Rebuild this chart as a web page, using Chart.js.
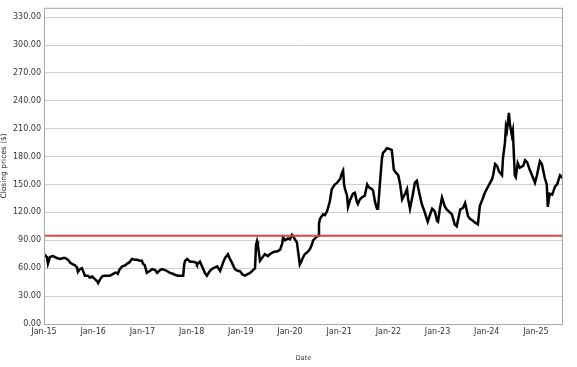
<!DOCTYPE html>
<html>
<head>
<meta charset="utf-8">
<script src="https://cdn.jsdelivr.net/npm/chart.js@4/dist/chart.umd.min.js"></script>
<style>
  body { margin: 0; background: #fff; }
</style>
</head>
<body>
<canvas id="myChart" width="577" height="367"></canvas>
<script>
// closing prices (date as decimal year)
var years = [
  2015.00, 2015.02, 2015.06, 2015.08, 2015.12, 2015.18, 2015.26, 2015.33, 2015.39, 2015.43,
  2015.49, 2015.53, 2015.59, 2015.63, 2015.67, 2015.69, 2015.73, 2015.77, 2015.81, 2015.83,
  2015.89, 2015.93, 2015.98, 2016.04, 2016.08, 2016.10, 2016.14, 2016.18, 2016.22, 2016.28,
  2016.34, 2016.38, 2016.44, 2016.48, 2016.50, 2016.54, 2016.59, 2016.65, 2016.69, 2016.73,
  2016.79, 2016.85, 2016.89, 2016.95, 2016.99, 2017.01, 2017.05, 2017.09, 2017.15, 2017.20,
  2017.26, 2017.30, 2017.36, 2017.40, 2017.46, 2017.50, 2017.56, 2017.62, 2017.66, 2017.72,
  2017.76, 2017.83, 2017.85, 2017.87, 2017.91, 2017.97, 2018.03, 2018.09, 2018.11, 2018.17,
  2018.23, 2018.27, 2018.31, 2018.37, 2018.41, 2018.48, 2018.52, 2018.58, 2018.64, 2018.68,
  2018.74, 2018.78, 2018.82, 2018.88, 2018.94, 2018.98, 2019.04, 2019.09, 2019.15, 2019.19,
  2019.25, 2019.29, 2019.31, 2019.33, 2019.35, 2019.39, 2019.43, 2019.49, 2019.55, 2019.59,
  2019.65, 2019.70, 2019.74, 2019.80, 2019.84, 2019.86, 2019.90, 2019.96, 2020.00, 2020.04,
  2020.06, 2020.10, 2020.14, 2020.16, 2020.20, 2020.22, 2020.26, 2020.30, 2020.37, 2020.41,
  2020.45, 2020.47, 2020.51, 2020.57, 2020.59, 2020.61, 2020.67, 2020.71, 2020.75, 2020.77,
  2020.81, 2020.85, 2020.91, 2020.96, 2021.02, 2021.06, 2021.08, 2021.10, 2021.12, 2021.16,
  2021.18, 2021.22, 2021.28, 2021.32, 2021.36, 2021.38, 2021.42, 2021.46, 2021.52, 2021.57,
  2021.59, 2021.63, 2021.67, 2021.69, 2021.73, 2021.77, 2021.79, 2021.83, 2021.87, 2021.89,
  2021.93, 2021.97, 2022.03, 2022.07, 2022.09, 2022.11, 2022.15, 2022.20, 2022.24, 2022.28,
  2022.30, 2022.34, 2022.38, 2022.40, 2022.44, 2022.50, 2022.54, 2022.58, 2022.60, 2022.64,
  2022.68, 2022.70, 2022.74, 2022.80, 2022.85, 2022.89, 2022.93, 2022.95, 2022.99, 2023.01,
  2023.05, 2023.09, 2023.15, 2023.19, 2023.25, 2023.29, 2023.35, 2023.39, 2023.46, 2023.52,
  2023.56, 2023.62, 2023.66, 2023.72, 2023.76, 2023.82, 2023.86, 2023.92, 2023.96, 2024.02,
  2024.07, 2024.11, 2024.13, 2024.17, 2024.21, 2024.25, 2024.31, 2024.33, 2024.37, 2024.39,
  2024.41, 2024.45, 2024.47, 2024.51, 2024.53, 2024.57, 2024.59, 2024.63, 2024.67, 2024.74,
  2024.78, 2024.82, 2024.88, 2024.92, 2024.98, 2025.02, 2025.08, 2025.12, 2025.18, 2025.22,
  2025.24, 2025.28, 2025.33, 2025.39, 2025.43, 2025.49, 2025.53, 2025.55
];
var prices = [
  75, 74, 72, 65, 72, 73, 71, 70, 71, 71,
  69, 66, 64, 63, 61, 56, 59, 60, 55, 52,
  52, 50, 51, 48, 46, 44, 48, 51, 52, 52,
  52, 53, 55, 55, 54, 59, 62, 63, 65, 66,
  70, 69, 69, 68, 68, 65, 63, 55, 57, 59,
  58, 55, 58, 59, 58, 57, 55, 54, 53, 52,
  52, 52, 64, 68, 70, 67, 67, 66, 64, 67,
  60, 55, 52, 57, 59, 61, 62, 57, 66, 71,
  75, 70, 66, 59, 57, 57, 53, 52, 54, 55,
  58, 60, 85, 89, 84, 68, 71, 75, 73, 75,
  77, 78, 78, 80, 86, 93, 90, 92, 91, 96,
  95, 91, 88, 80, 64, 66, 71, 75, 78, 81,
  86, 90, 92, 95, 108, 113, 118, 117, 121, 124,
  132, 145, 150, 152, 156, 163, 165, 150, 145, 138,
  126, 133, 140, 141, 131, 129, 134, 136, 138, 150,
  148, 146, 145, 143, 131, 124, 124, 152, 178, 184,
  186, 189, 188, 187, 177, 166, 163, 160, 150, 134,
  136, 140, 145, 135, 124, 140, 152, 154, 148, 138,
  129, 126, 120, 110, 118, 124, 122, 120, 111, 110,
  125, 136, 126, 123, 120, 118, 107, 105, 123, 125,
  130, 116, 113, 111, 109, 107, 127, 135, 141, 147,
  152, 156, 160, 172, 170, 164, 160, 178, 195, 212,
  208, 227, 215, 203, 208, 160, 158, 173, 168, 170,
  176, 174, 165, 160, 152, 160, 175, 172, 157, 150,
  126, 140, 139, 148, 150, 160, 158, 156
];
var threshold = 95;
var yTicks = [0, 30, 60, 90, 120, 150, 180, 210, 240, 270, 300, 330];
var xTickLabels = ['Jan-15', 'Jan-16', 'Jan-17', 'Jan-18', 'Jan-19', 'Jan-20',
                   'Jan-21', 'Jan-22', 'Jan-23', 'Jan-24', 'Jan-25'];

var firstYear = years[0], lastYear = years[years.length - 1];

var pricePoints = years.map(function (y, i) { return { x: y, y: prices[i] }; });
var limitPoints = [{ x: firstYear, y: threshold }, { x: lastYear, y: threshold }];

// plain box round the plot area
var framePlugin = {
  id: 'frame',
  afterDraw: function (chart) {
    var a = chart.chartArea, ctx = chart.ctx;
    ctx.save();
    ctx.strokeStyle = '#a8a8a8';
    ctx.lineWidth = 1;
    ctx.strokeRect(a.left + 0.5, a.top + 0.5, a.right - a.left - 1, a.bottom - a.top);
    ctx.restore();
  }
};

var chart = new Chart("myChart", {
  type: "line",
  data: {
    datasets: [{
      data: limitPoints,
      borderColor: "#d9473b",
      borderWidth: 2,
      pointRadius: 0,
      order: 0
    }, {
      data: pricePoints,
      borderColor: "#000000",
      borderWidth: 2.5,
      pointRadius: 0,
      tension: 0,
      order: 1
    }]
  },
  options: {
    responsive: false,
    animation: false,
    layout: { padding: { top: 3, right: 14, left: 0, bottom: 0 } },
    plugins: { legend: { display: false }, tooltip: { enabled: false } },
    scales: {
      x: {
        type: "linear",
        min: firstYear,
        max: lastYear,
        afterFit: function (s) { s.height = 43; },
        afterBuildTicks: function (s) {
          s.ticks = xTickLabels.map(function (t, i) { return { value: firstYear + i }; });
        },
        grid: { display: false, drawTicks: false },
        border: { display: false },
        ticks: {
          padding: 3,
          autoSkip: false,
          maxRotation: 0,
          color: "#333",
          font: { family: "DejaVu Sans", size: 8 },
          callback: function (v) { return xTickLabels[Math.round(v - firstYear)]; }
        },
        title: {
          display: true,
          text: "Date",
          color: "#333",
          font: { family: "DejaVu Sans", size: 6.5 },
          padding: { top: 0, bottom: 5 }
        }
      },
      y: {
        min: 0,
        max: 340,
        afterFit: function (s) { s.width = 44; },
        afterBuildTicks: function (s) {
          s.ticks = yTicks.map(function (v) { return { value: v }; });
        },
        grid: { color: "#cfcfcf", lineWidth: 1, drawTicks: false },
        border: { display: false },
        ticks: {
          padding: 3,
          color: "#333",
          font: { family: "DejaVu Sans", size: 8 },
          callback: function (v) { return Number(v).toFixed(2); }
        },
        title: {
          display: true,
          text: "Closing prices ($)",
          color: "#222",
          font: { family: "DejaVu Sans", size: 7.5 },
          padding: { top: 0, bottom: 2 }
        }
      }
    }
  },
  plugins: [framePlugin]
});
</script>
</body>
</html>
